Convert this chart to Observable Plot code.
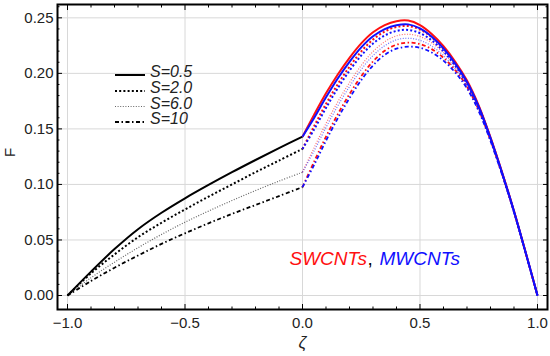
<!DOCTYPE html>
<html><head><meta charset="utf-8">
<script src="https://cdn.jsdelivr.net/npm/d3@7"></script>
<script src="https://cdn.jsdelivr.net/npm/@observablehq/plot@0.6"></script>
<style>
body{margin:0;background:#fff;}
#chart{position:relative;width:550px;height:356px;font-family:"Liberation Sans",Arial,sans-serif;}
#legend{position:absolute;left:0;top:0;pointer-events:none;}
</style></head><body><div id="chart"></div>
<script>
// ---- data ----
const sLabels = ["S=0.5", "S=2.0", "S=6.0", "S=10"];
const zetaLeft = [-1, -0.9, -0.8, -0.7, -0.6, -0.5, -0.4, -0.3, -0.2, -0.1, 0];
const left_S05 = [0, 0.0215, 0.0418, 0.0597, 0.0745, 0.0875, 0.0995, 0.1110, 0.1220, 0.1327, 0.143];
const left_S2  = [0, 0.020, 0.037, 0.0525, 0.0655, 0.0775, 0.0890, 0.1000, 0.1110, 0.1215, 0.132];
const left_S6  = [0, 0.016, 0.030, 0.0430, 0.0550, 0.0660, 0.0760, 0.0855, 0.0945, 0.1030, 0.111];
const left_S10 = [0, 0.013, 0.025, 0.0360, 0.0465, 0.0560, 0.0650, 0.0735, 0.0815, 0.0895, 0.0976];

const zetaRight = [0, 0.05, 0.1, 0.15, 0.2, 0.25, 0.3, 0.35, 0.4, 0.45, 0.5, 0.55, 0.6, 0.65, 0.7, 0.75, 0.8, 0.85, 0.9, 0.95, 1];
const SW_S05 = [0.143, 0.163, 0.182, 0.199, 0.214, 0.227, 0.237, 0.2435, 0.2470, 0.2475, 0.2435, 0.2355, 0.2245, 0.2105, 0.1935, 0.1710, 0.1425, 0.1105, 0.0760, 0.0385, 0];
const MW_S05 = [0.143, 0.160, 0.1784, 0.1954, 0.2104, 0.2234, 0.2334, 0.2399, 0.2434, 0.2441, 0.2405, 0.2330, 0.2225, 0.2088, 0.1922, 0.1700, 0.1418, 0.1101, 0.0758, 0.0384, 0];
const SW_S2  = [0.132, 0.1527, 0.1725, 0.1902, 0.2060, 0.2197, 0.2304, 0.2377, 0.2418, 0.2426, 0.2395, 0.2325, 0.2222, 0.2087, 0.1921, 0.1700, 0.1418, 0.1100, 0.0758, 0.0384, 0];
const MW_S2  = [0.132, 0.1497, 0.1689, 0.1866, 0.2024, 0.2161, 0.2268, 0.2341, 0.2382, 0.2391, 0.2362, 0.2297, 0.2199, 0.2068, 0.1906, 0.1689, 0.1411, 0.1096, 0.0756, 0.0383, 0];
const SW_S6  = [0.111, 0.1334, 0.1549, 0.1743, 0.1917, 0.2071, 0.2196, 0.2285, 0.2338, 0.2352, 0.2332, 0.2275, 0.2185, 0.2062, 0.1905, 0.1688, 0.1410, 0.1095, 0.0755, 0.0382, 0];
const MW_S6  = [0.111, 0.1304, 0.1513, 0.1707, 0.1881, 0.2035, 0.2160, 0.2249, 0.2302, 0.2316, 0.2298, 0.2245, 0.2160, 0.2042, 0.1890, 0.1677, 0.1403, 0.1091, 0.0753, 0.0381, 0];
const SW_S10 = [0.0976, 0.1208, 0.1430, 0.1631, 0.1813, 0.1975, 0.2107, 0.2203, 0.2258, 0.2277, 0.2264, 0.2218, 0.2140, 0.2028, 0.1880, 0.1670, 0.1398, 0.1088, 0.0752, 0.0380, 0];
const MW_S10 = [0.0976, 0.1178, 0.1394, 0.1595, 0.1777, 0.1939, 0.2071, 0.2167, 0.2222, 0.2240, 0.2230, 0.2188, 0.2115, 0.2008, 0.1865, 0.1659, 0.1391, 0.1084, 0.0750, 0.0379, 0];

const xTicks = [-1, -0.5, 0, 0.5, 1];
const yTicks = [0, 0.05, 0.10, 0.15, 0.20, 0.25];
const annotation = ["SWCNTs", ",", "MWCNTs"];

// ---- styles ----
const lineStyle = [
  {dash: "none", width: 2, opacity: 1},
  {dash: "2,2.2", width: 2, opacity: 1},
  {dash: "1,1.6", width: 1.2, opacity: 0.6},
  {dash: "4,2.5,1.5,2.5", width: 1.8, opacity: 1}
];
const seriesDefs = [
  {z: zetaLeft, F: [left_S05, left_S2, left_S6, left_S10], color: "#000"},
  {z: zetaRight, F: [SW_S05, SW_S2, SW_S6, SW_S10], color: "#ff1010"},
  {z: zetaRight, F: [MW_S05, MW_S2, MW_S6, MW_S10], color: "#1010ff"}
];

const font = "Liberation Sans, Arial, sans-serif";
const lineMarks = [];
for (const def of seriesDefs) {
  def.F.forEach((arr, k) => {
    const st = lineStyle[k];
    const rows = def.z.map((z, i) => ({z, F: arr[i]}));
    lineMarks.push(Plot.line(rows, {
      x: "z", y: "F", stroke: def.color, strokeWidth: st.width,
      strokeDasharray: st.dash, strokeOpacity: st.opacity, curve: "catmull-rom",
      ariaDescription: "series-style-" + k
    }));
  });
}

const minorX = d3.range(-10, 11).map(d => d / 10).filter(d => !xTicks.some(t => Math.abs(t - d) < 1e-9));
const minorY = d3.range(0, 27).map(d => d / 100).filter(d => !yTicks.some(t => Math.abs(t - d) < 1e-9));

const tickStyle = {stroke: "#000", fill: "none", label: null};

const chart = Plot.plot({
  width: 550, height: 356,
  marginLeft: 57, marginRight: 3, marginTop: 4, marginBottom: 47,
  style: {fontFamily: font, background: "#fff", color: "#000"},
  x: {domain: [-1.0426, 1.0426]},
  y: {domain: [-0.0126, 0.262]},
  marks: [
    Plot.gridX(xTicks, {stroke: "#d8d8d8", strokeOpacity: 1}),
    Plot.gridY(yTicks, {stroke: "#d8d8d8", strokeOpacity: 1}),
    ...lineMarks,
    Plot.frame({stroke: "#000", strokeWidth: 2}),
    // labels
    Plot.axisX(xTicks, {anchor: "bottom", tickSize: 0, tickPadding: 8, fontSize: 15, tickFormat: d3.format(".1f"), fill: "#222", label: null}),
    Plot.axisY(yTicks, {anchor: "left", tickSize: 0, tickPadding: 4, fontSize: 15, tickFormat: d3.format(".2f"), fill: "#222", label: null}),
    // inward ticks
    Plot.axisX(xTicks, {anchor: "bottom", tickSize: 5, dy: -5, ...tickStyle}),
    Plot.axisX(minorX, {anchor: "bottom", tickSize: 2.5, dy: -2.5, ...tickStyle}),
    Plot.axisX(xTicks, {anchor: "top", tickSize: 5, dy: 5, ...tickStyle}),
    Plot.axisX(minorX, {anchor: "top", tickSize: 2.5, dy: 2.5, ...tickStyle}),
    Plot.axisY(yTicks, {anchor: "left", tickSize: 5, dx: 5, ...tickStyle}),
    Plot.axisY(minorY, {anchor: "left", tickSize: 2.5, dx: 2.5, ...tickStyle}),
    Plot.axisY(yTicks, {anchor: "right", tickSize: 5, dx: -5, ...tickStyle}),
    Plot.axisY(minorY, {anchor: "right", tickSize: 2.5, dx: -2.5, ...tickStyle}),
    // axis titles
    Plot.text(["ζ"], {frameAnchor: "bottom", dy: 38, fontSize: 17, fontStyle: "italic", fill: "#222", text: d => d}),
    Plot.text(["F"], {frameAnchor: "left", dx: -47, rotate: -90, fontSize: 15, fill: "#222", text: d => d}),
    // annotation
    Plot.text([annotation[0]], {frameAnchor: "bottom-left", dx: 232, dy: -45, lineAnchor: "bottom", textAnchor: "start", fontSize: 19, fontStyle: "italic", fill: "#ff1010", text: d => d}),
    Plot.text([annotation[1]], {frameAnchor: "bottom-left", dx: 310, dy: -45, lineAnchor: "bottom", textAnchor: "start", fontSize: 19, fill: "#000", text: d => d}),
    Plot.text([annotation[2]], {frameAnchor: "bottom-left", dx: 322, dy: -45, lineAnchor: "bottom", textAnchor: "start", fontSize: 19, fontStyle: "italic", fill: "#1010ff", text: d => d})
  ]
});
// make sure dash patterns are applied on the line paths
lineStyle.forEach((st, k) => {
  d3.select(chart).selectAll(`g[aria-description="series-style-${k}"] path`)
    .attr("stroke-dasharray", st.dash).attr("stroke-linecap", "butt");
});
const container = document.getElementById("chart");
container.appendChild(chart);

// legend overlay
const legend = d3.select(container).append("svg").attr("id", "legend")
  .attr("width", 550).attr("height", 356);
const legY = [75, 91, 106.5, 122];
sLabels.forEach((lab, k) => {
  const st = lineStyle[k];
  legend.append("line").attr("x1", 115).attr("x2", 145).attr("y1", legY[k]).attr("y2", legY[k])
    .attr("stroke", "#000").attr("stroke-width", st.width).attr("stroke-opacity", st.opacity)
    .attr("stroke-dasharray", st.dash);
  legend.append("text").attr("x", 150).attr("y", legY[k] + 2).attr("font-family", font)
    .attr("font-size", 16).attr("font-style", "italic").attr("fill", "#222").text(lab);
});
</script></body></html>
